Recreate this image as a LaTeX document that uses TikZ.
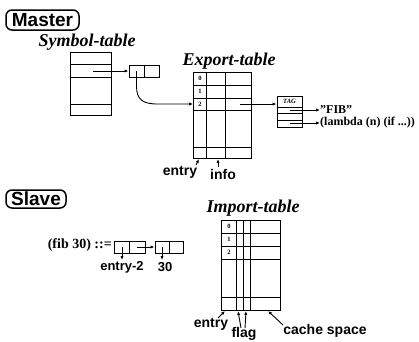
\documentclass[tikz,border=0pt]{standalone}
\usepackage{fontspec}
\setmainfont{Liberation Serif}
\setsansfont{Liberation Sans}
\usetikzlibrary{arrows.meta}
\tikzset{
  tbl/.style={draw, line width=1pt},
  tline/.style={line width=1pt},
  arr/.style={-{Latex[length=4pt,width=3.2pt]}, line width=0.9pt},
  lbl/.style={font=\sffamily\bfseries\fontsize{14}{14}\selectfont, inner sep=0pt},
  ttl/.style={font=\bfseries\itshape\fontsize{18}{18}\selectfont, inner sep=0pt},
  hdr/.style={draw, line width=1.5pt, rounded corners=6pt, inner sep=0pt,
    font=\sffamily\bfseries\fontsize{19}{19}\selectfont},
  num/.style={font=\bfseries\fontsize{6.5}{6.5}\selectfont, inner sep=0pt},
  cell/.style={draw, line width=1pt, inner sep=0pt, minimum width=#1, minimum height=12pt},
  ser/.style={font=\bfseries\fontsize{12}{12}\selectfont, inner sep=0pt, anchor=west},
}
\begin{document}
\begin{tikzpicture}[x=1pt,y=-1pt]
\useasboundingbox (0,0) rectangle (419,341);

% ---------------- Master ----------------
\node[hdr, minimum width=73pt, minimum height=20pt] (master) at (42.5,20) {Master};
\node[ttl] (symt) at (87,42) {Symbol-table};

% symbol table
\node[tbl, inner sep=0pt, minimum width=41pt, minimum height=63pt] (sym) at (90.5,83.5) {};
\draw[tline] (70,64) -- (111,64) (70,77) -- (111,77) (70,104) -- (111,104);
\coordinate (symp) at (93,71);

% cons cell
\node[cell=30pt] (cons1) at (144,71) {};
\draw[tline] (cons1.north) -- (cons1.south);
\coordinate (c1car) at (136.5,71);
\draw[arr] (symp) -- (cons1.west);

% export table
\node[ttl] (expt) at (229,61) {Export-table};
\node[tbl, inner sep=0pt, minimum width=58pt, minimum height=86pt] (exp) at (222,115) {};
\draw[tline] (206,72) -- (206,158) (225,72) -- (225,158);
\draw[tline] (193,85) -- (251,85) (193,98) -- (251,98) (193,110) -- (251,110) (193,147) -- (251,147);
\node[num] (e0) at (200,78.5) {0};
\node[num] (e1) at (200,91.5) {1};
\node[num] (e2) at (200,104) {2};
\coordinate (exprow2) at (193,104);
\coordinate (expinfo2) at (240,104);

\draw[arr] (c1car) -- (136.5,86) .. controls (136.5,100) and (143,104) .. (158,104) -- (exprow2);

% TAG box
\node[tbl, inner sep=0pt, minimum width=25pt, minimum height=31pt] (tag) at (289.5,111.5) {};
\draw[tline] (277,107) -- (302,107) (277,113) -- (302,113) (277,120) -- (302,120);
\node[font=\bfseries\itshape\fontsize{6.5}{6.5}\selectfont, inner sep=0pt] (tagt) at (289.5,101.5) {TAG};
\draw[arr] (expinfo2) -- (tag.west |- expinfo2);
\coordinate (tagn) at (290,110);
\coordinate (tagf) at (290,123);
\node[ser] (fib) at (320,110) {\symbol{34}FIB\symbol{34}};
\node[ser] (lam) at (320,123) {(lambda (n) (if ...))};
\draw[arr] (tagn) -- (fib.west);
\draw[arr] (tagf) -- (lam.west);

% labels under export
\node[lbl] (eentry) at (180,172) {entry};
\node[lbl] (einfo) at (223,174) {info};
\draw[arr] (196,165) -- (199,159);
\draw[arr] (218,167) -- (218,159);

% ---------------- Slave ----------------
\node[hdr, minimum width=60pt, minimum height=18pt] (slave) at (36,199) {Slave};

\node[font=\bfseries\fontsize{14}{14}\selectfont, inner sep=0pt, anchor=east] (fibdef) at (112,245) {(fib 30) ::=};
\node[cell=31pt] (sc1) at (129.5,247) {};
\draw[tline] (sc1.north) -- (sc1.south);
\node[cell=28pt] (sc2) at (169,247) {};
\draw[tline] (sc2.north) -- (sc2.south);
\coordinate (sc1car) at (122,247);
\coordinate (sc1cdr) at (137,247);
\coordinate (sc2car) at (162,247);
\draw[arr] (sc1cdr) -- (sc2.west);
\node[lbl, font=\sffamily\bfseries\fontsize{13}{13}\selectfont] (e2lbl) at (122,267) {entry-2};
\node[lbl, font=\sffamily\bfseries\fontsize{13}{13}\selectfont] (thirty) at (165,267) {30};
\draw[arr] (sc1car) -- (122,260);
\draw[arr] (sc2car) -- (162,260);

% import table
\node[ttl] (impt) at (253,208) {Import-table};
\node[tbl, inner sep=0pt, minimum width=59pt, minimum height=90pt] (imp) at (250.5,265) {};
\draw[tline] (236,220) -- (236,310) (243,220) -- (243,310) (250,220) -- (250,310);
\draw[tline] (221,233) -- (280,233) (221,246) -- (280,246) (221,259) -- (280,259) (221,297) -- (280,297);
\node[num] (i0) at (229,226.5) {0};
\node[num] (i1) at (229,239.5) {1};
\node[num] (i2) at (229,252.5) {2};

\node[lbl] (ientry) at (211,324) {entry};
\node[lbl] (iflag) at (244,334) {flag};
\node[lbl] (icache) at (325,331) {cache space};
\draw[arr] (218,318) -- (225,311);
\draw[arr] (241,328) -- (238,311);
\draw[arr] (245,328) -- (246,311);
\draw[arr] (283,325) -- (268,311);
\end{tikzpicture}
\end{document}
